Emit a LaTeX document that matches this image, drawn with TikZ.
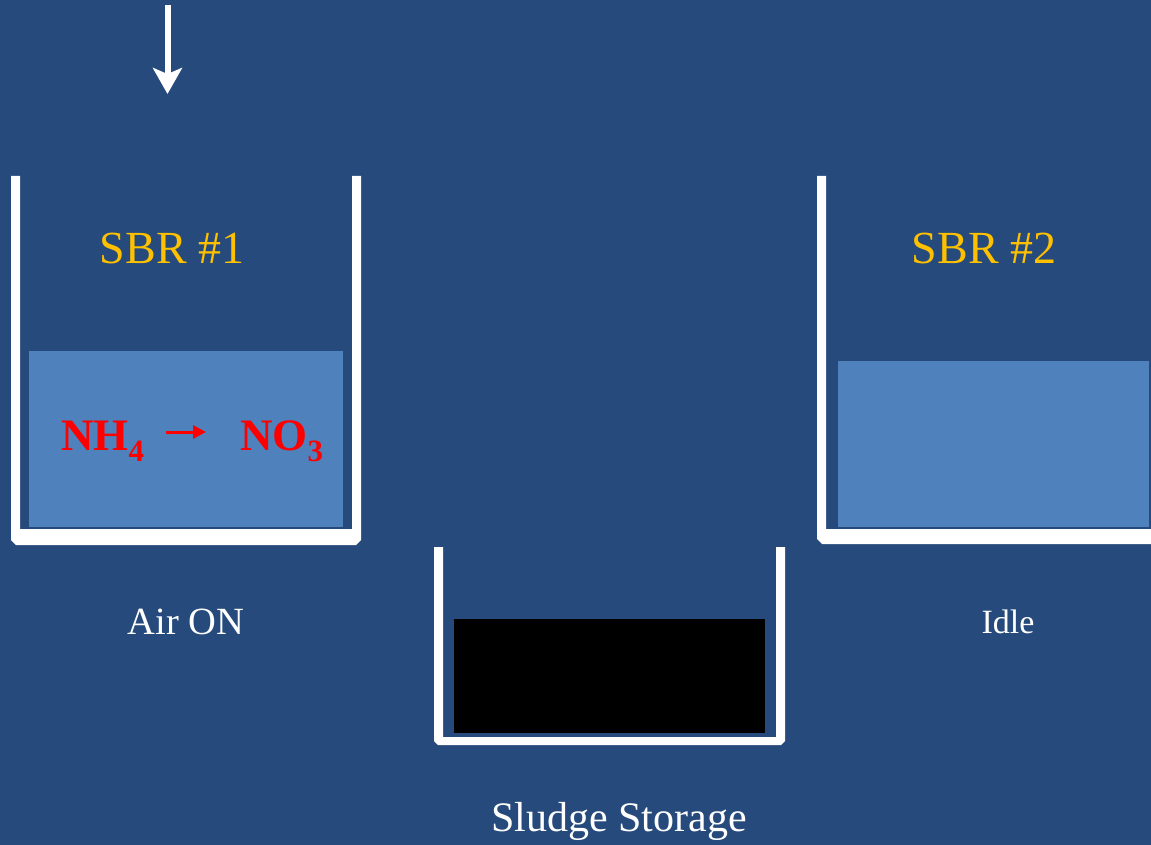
\documentclass[tikz,border=0pt]{standalone}
\usepackage{fontspec}
\setmainfont{Liberation Serif}
\usetikzlibrary{arrows.meta}
\definecolor{bgblue}{HTML}{254A7B}
\definecolor{water}{HTML}{4F81BD}
\definecolor{gold}{HTML}{FFC000}
\tikzset{
  wall/.style={fill=white, draw=none},
  liquid/.style={fill=water, draw=none},
  sludge/.style={fill=black, draw=none},
  tanklabel/.style={text=gold, font=\fontsize{46}{50}\selectfont, inner sep=0pt},
  caption/.style={text=white, inner sep=0pt},
  chem/.style={text=red, font=\bfseries\fontsize{45}{48}\selectfont, inner sep=0pt, anchor=base west},
}
\newcommand{\chemsub}[1]{\raisebox{-0.26em}{\fontsize{31}{31}\selectfont #1}}
\begin{document}
\begin{tikzpicture}[x=1pt,y=-1pt]
  % canvas
  \fill[bgblue] (0,0) rectangle (1151,845);
  \useasboundingbox (0,0) rectangle (1151,845);

  % feed arrow into SBR #1
  \coordinate (feedtop) at (167.5,5);
  \coordinate (feedend) at (167.5,94);
  \draw[white, line width=6pt, -{Stealth[length=26pt,width=29pt,inset=6pt]}] (feedtop) -- (feedend);

  % SBR #1 tank
  \fill[liquid] (29,351) rectangle (343,527);
  \fill[wall] (11,176) -- (20,176) -- (20,529) -- (352,529) -- (352,176) -- (361,176)
    -- (361,540) -- (356,545) -- (16,545) -- (11,540) -- cycle;
  \node[tanklabel] (sbr1) at (172,248) {SBR \#1};
  \node[chem] (nh4) at (61,450) {NH\chemsub{4}};
  \node[chem] (no3) at (240,450) {NO\chemsub{3}};
  \draw[red, line width=3pt, -{Triangle[length=13pt,width=13pt]}]
    ([xshift=22pt,yshift=18pt]nh4.base east) -- ([xshift=-34pt,yshift=18pt]no3.base west);
  \node[caption, font=\fontsize{38.5}{42}\selectfont] (airon) at (186,622) {Air ON};

  % sludge storage tank
  \fill[sludge] (454,619) rectangle (765,733);
  \fill[wall] (434,547) -- (443,547) -- (443,737) -- (776,737) -- (776,547) -- (785,547)
    -- (785,741) -- (781,745) -- (438,745) -- (434,741) -- cycle;
  \node[caption, font=\fontsize{42}{46}\selectfont] (store) at (619,821) {Sludge Storage};

  % SBR #2 tank (continues past the right edge)
  \fill[liquid] (838,361) rectangle (1149,527);
  \fill[wall] (817,176) -- (826,176) -- (826,529) -- (1160,529) -- (1160,544)
    -- (822,544) -- (817,539) -- cycle;
  \node[tanklabel] (sbr2) at (984,248) {SBR \#2};
  \node[caption, font=\fontsize{34}{38}\selectfont] (idle) at (1008,622) {Idle};
\end{tikzpicture}
\end{document}
